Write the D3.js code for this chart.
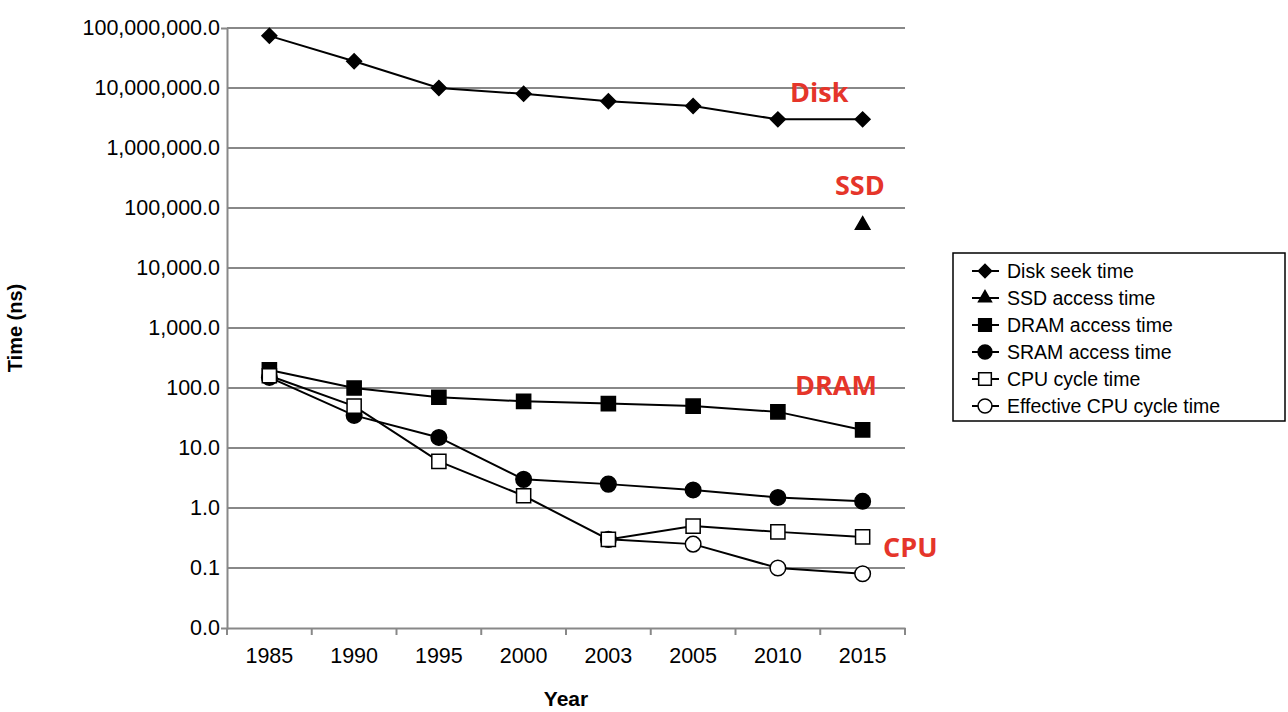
<!DOCTYPE html>
<html><head><meta charset="utf-8">
<script src="https://cdn.jsdelivr.net/npm/d3@7"></script>
<style>body{margin:0;background:#fff}</style>
</head><body><svg id="chart" width="1288" height="712"></svg>
<script>
var years = ['1985','1990','1995','2000','2003','2005','2010','2015'];
var diskSeek = [7.4e7, 2.8e7, 1e7, 8e6, 6e6, 5e6, 3e6, 3e6];
var ssdAccess = [null, null, null, null, null, null, null, 5.2e4];
var dramAccess = [200, 100, 70, 60, 55, 50, 40, 20];
var sramAccess = [150, 35, 15, 3, 2.5, 2, 1.5, 1.3];
var cpuCycle = [160, 50, 6, 1.6, 0.3, 0.5, 0.4, 0.33];
var effCpuCycle = [null, null, null, null, 0.3, 0.25, 0.1, 0.08];
var yTicks = [0.01, 0.1, 1, 10, 100, 1e3, 1e4, 1e5, 1e6, 1e7, 1e8];

var svg = d3.select('#chart');
var x = d3.scaleBand().domain(years).range([227, 905]);
var y = d3.scaleLog().domain([0.01, 1e8]).range([628, 28]);
var fmt = function(v) { return d3.format(',.1f')(v < 0.05 ? 0 : v); };

// grid
svg.selectAll('.grid').data(yTicks.slice(1)).enter().append('line')
  .attr('x1', 227).attr('x2', 905)
  .attr('y1', function(d) { return y(d); }).attr('y2', function(d) { return y(d); })
  .attr('stroke', '#888').attr('stroke-width', 2);

var yAxis = svg.append('g').attr('transform', 'translate(227,0)')
  .call(d3.axisLeft(y).tickValues(yTicks).tickFormat(fmt).tickSize(6));
var xAxis = svg.append('g').attr('transform', 'translate(0,628)')
  .call(d3.axisBottom(x).tickSize(0).tickPadding(20));
// x ticks at band edges
svg.selectAll('.xt').data(years.concat(['end'])).enter().append('line')
  .attr('x1', function(d, i) { return 227 + i * x.step(); })
  .attr('x2', function(d, i) { return 227 + i * x.step(); })
  .attr('y1', 628).attr('y2', 635).attr('stroke', '#888').attr('stroke-width', 2);
[yAxis, xAxis].forEach(function(a) {
  a.select('.domain').attr('stroke', '#888').attr('stroke-width', 2);
  a.selectAll('.tick line').attr('stroke', '#888').attr('stroke-width', 2);
  a.selectAll('text').attr('font-family', 'Liberation Sans, Arial').attr('font-size', 21.5).attr('fill', '#000');
});
yAxis.selectAll('.tick line').attr('x2', 0);
yAxis.selectAll('text').attr('x', -7);

svg.append('text').attr('transform', 'translate(22,328) rotate(-90)').attr('text-anchor', 'middle')
  .attr('font-family', 'Liberation Sans, Arial').attr('font-weight', 'bold').attr('font-size', 20).text('Time (ns)');
svg.append('text').attr('x', 566).attr('y', 706).attr('text-anchor', 'middle')
  .attr('font-family', 'Liberation Sans, Arial').attr('font-weight', 'bold').attr('font-size', 21).text('Year');

var series = [
  { name: 'Disk seek time', values: diskSeek, shape: 'diamond', fill: '#000' },
  { name: 'SSD access time', values: ssdAccess, shape: 'triangle', fill: '#000' },
  { name: 'DRAM access time', values: dramAccess, shape: 'square', fill: '#000' },
  { name: 'SRAM access time', values: sramAccess, shape: 'circle', fill: '#000' },
  { name: 'Effective CPU cycle time', values: effCpuCycle, shape: 'circle', fill: '#fff' },
  { name: 'CPU cycle time', values: cpuCycle, shape: 'square', fill: '#fff' }
];
var symbols = { diamond: d3.symbolSquare, triangle: d3.symbolTriangle, square: d3.symbolSquare, circle: d3.symbolCircle };
var sizes = { diamond: 110, triangle: 90, square: 200, circle: 190 };
var rot = function(s) { return s.shape === 'diamond' ? ' rotate(45)' : ''; };

var line = d3.line().defined(function(d) { return d != null; })
  .x(function(d, i) { return x(years[i]) + x.bandwidth() / 2; })
  .y(function(d) { return y(d); });

series.forEach(function(s) {
  svg.append('path').datum(s.values).attr('d', line).attr('fill', 'none')
    .attr('stroke', '#000').attr('stroke-width', 2);
});
series.forEach(function(s) {
  svg.selectAll(null).data(s.values.map(function(v, i) { return { v: v, i: i }; })
      .filter(function(d) { return d.v != null; })).enter()
    .append('path')
    .attr('d', d3.symbol().type(symbols[s.shape]).size(sizes[s.shape]))
    .attr('transform', function(d) { return 'translate(' + (x(years[d.i]) + x.bandwidth() / 2) + ',' + y(d.v) + ')' + rot(s); })
    .attr('fill', s.fill).attr('stroke', '#000').attr('stroke-width', 1.5);
});

// red annotations
var notes = [['Disk', 790, 102], ['SSD', 835, 195], ['DRAM', 795, 395], ['CPU', 883, 557]];
notes.forEach(function(n) {
  svg.append('text').attr('x', n[1]).attr('y', n[2]).attr('fill', '#e5352a')
    .attr('font-family', 'Open Sans, sans-serif').attr('font-weight', 'bold').attr('font-size', 27).text(n[0]);
});

// legend
var order = [0, 1, 2, 3, 5, 4];
var lg = svg.append('g');
lg.append('rect').attr('x', 953).attr('y', 253).attr('width', 332).attr('height', 168)
  .attr('fill', '#fff').attr('stroke', '#000').attr('stroke-width', 1.5);
order.forEach(function(si, k) {
  var s = series[si];
  var yy = 271 + k * 27;
  lg.append('line').attr('x1', 972).attr('x2', 999).attr('y1', yy).attr('y2', yy).attr('stroke', '#000').attr('stroke-width', 2);
  lg.append('path').attr('d', d3.symbol().type(symbols[s.shape]).size(sizes[s.shape] * 0.8))
    .attr('transform', 'translate(985,' + yy + ')' + rot(s)).attr('fill', s.fill).attr('stroke', '#000').attr('stroke-width', 1.5);
  lg.append('text').attr('x', 1007).attr('y', yy + 7).attr('font-family', 'Liberation Sans, Arial')
    .attr('font-size', 19.5).text(s.name);
});
</script></body></html>
